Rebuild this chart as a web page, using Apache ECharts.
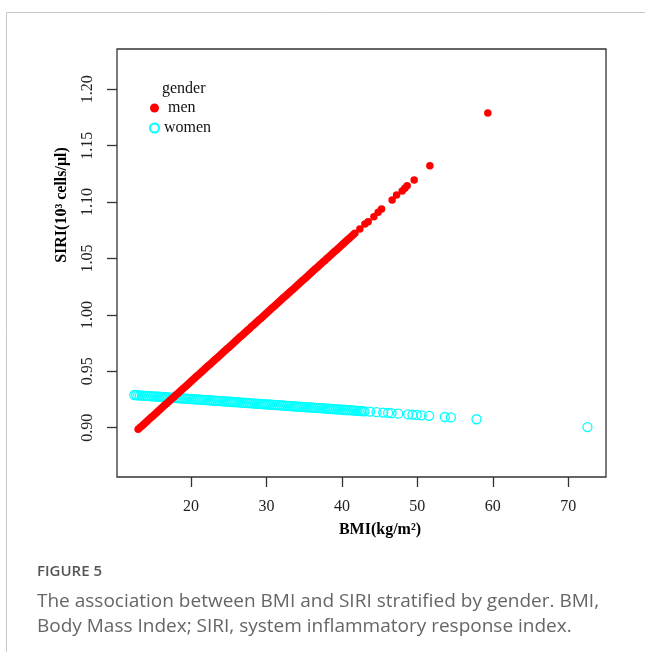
<!DOCTYPE html>
<html>
<head>
<meta charset="utf-8">
<script src="https://cdn.jsdelivr.net/npm/echarts@6/dist/echarts.min.js"></script>
<style>
html,body{margin:0;padding:0;background:#fff;}
#chart{width:645px;height:652px;}
</style>
</head>
<body>
<div id="chart"></div>
<script>
// ---- data ----
const menBMI = [13.00,13.25,13.50,13.75,14.00,14.25,14.50,14.75,15.00,15.25,15.50,15.75,16.00,16.25,16.50,16.75,17.00,17.25,17.50,17.75,18.00,18.25,18.50,18.75,19.00,19.25,19.50,19.75,20.00,20.25,20.50,20.75,21.00,21.25,21.50,21.75,22.00,22.25,22.50,22.75,23.00,23.25,23.50,23.75,24.00,24.25,24.50,24.75,25.00,25.25,25.50,25.75,26.00,26.25,26.50,26.75,27.00,27.25,27.50,27.75,28.00,28.25,28.50,28.75,29.00,29.25,29.50,29.75,30.00,30.25,30.50,30.75,31.00,31.25,31.50,31.75,32.00,32.25,32.50,32.75,33.00,33.25,33.50,33.75,34.00,34.25,34.50,34.75,35.00,35.25,35.50,35.75,36.00,36.25,36.50,36.75,37.00,37.25,37.50,37.75,38.00,38.25,38.50,38.75,39.00,39.25,39.50,39.75,40.00,40.25,40.50,40.75,41.00,41.25,41.50,41.72,42.38,43.05,43.48,44.24,44.81,45.26,46.66,47.25,47.99,48.34,48.65,49.58,51.66,59.34];
const menSIRI = [0.8986,0.9001,0.9016,0.9031,0.9047,0.9062,0.9077,0.9092,0.9107,0.9122,0.9137,0.9152,0.9168,0.9183,0.9198,0.9213,0.9228,0.9243,0.9258,0.9273,0.9289,0.9304,0.9319,0.9334,0.9349,0.9364,0.9379,0.9394,0.9410,0.9425,0.9440,0.9455,0.9470,0.9485,0.9500,0.9515,0.9531,0.9546,0.9561,0.9576,0.9591,0.9606,0.9621,0.9636,0.9652,0.9667,0.9682,0.9697,0.9712,0.9727,0.9742,0.9757,0.9773,0.9788,0.9803,0.9818,0.9833,0.9848,0.9863,0.9878,0.9894,0.9909,0.9924,0.9939,0.9954,0.9969,0.9984,0.9999,1.0015,1.0030,1.0045,1.0060,1.0075,1.0090,1.0105,1.0120,1.0136,1.0151,1.0166,1.0181,1.0196,1.0211,1.0226,1.0241,1.0257,1.0272,1.0287,1.0302,1.0317,1.0332,1.0347,1.0362,1.0378,1.0393,1.0408,1.0423,1.0438,1.0453,1.0468,1.0483,1.0499,1.0514,1.0529,1.0544,1.0559,1.0574,1.0589,1.0604,1.0620,1.0635,1.0650,1.0665,1.0680,1.0695,1.0710,1.0723,1.0762,1.0806,1.0826,1.0871,1.0910,1.0938,1.1018,1.1063,1.1098,1.1122,1.1145,1.1196,1.1323,1.1790];
const womenBMI = [12.50,12.75,13.00,13.25,13.50,13.75,14.00,14.25,14.50,14.75,15.00,15.25,15.50,15.75,16.00,16.25,16.50,16.75,17.00,17.25,17.50,17.75,18.00,18.25,18.50,18.75,19.00,19.25,19.50,19.75,20.00,20.25,20.50,20.75,21.00,21.25,21.50,21.75,22.00,22.25,22.50,22.75,23.00,23.25,23.50,23.75,24.00,24.25,24.50,24.75,25.00,25.25,25.50,25.75,26.00,26.25,26.50,26.75,27.00,27.25,27.50,27.75,28.00,28.25,28.50,28.75,29.00,29.25,29.50,29.75,30.00,30.25,30.50,30.75,31.00,31.25,31.50,31.75,32.00,32.25,32.50,32.75,33.00,33.25,33.50,33.75,34.00,34.25,34.50,34.75,35.00,35.25,35.50,35.75,36.00,36.25,36.50,36.75,37.00,37.25,37.50,37.75,38.00,38.25,38.50,38.75,39.00,39.25,39.50,39.75,40.00,40.25,40.50,40.75,41.00,41.25,41.50,41.75,42.00,42.25,42.50,42.75,43.00,43.71,44.60,45.47,46.13,46.58,47.46,48.78,49.36,49.89,50.56,51.56,53.64,54.44,57.84,72.54];
const womenSIRI = [0.9290,0.9289,0.9287,0.9286,0.9285,0.9284,0.9283,0.9282,0.9280,0.9279,0.9278,0.9277,0.9276,0.9275,0.9273,0.9272,0.9271,0.9270,0.9268,0.9267,0.9266,0.9265,0.9264,0.9263,0.9261,0.9260,0.9259,0.9258,0.9257,0.9256,0.9254,0.9253,0.9252,0.9251,0.9250,0.9249,0.9247,0.9246,0.9245,0.9244,0.9242,0.9241,0.9240,0.9239,0.9238,0.9237,0.9235,0.9234,0.9233,0.9232,0.9231,0.9230,0.9228,0.9227,0.9226,0.9225,0.9224,0.9223,0.9221,0.9220,0.9219,0.9218,0.9216,0.9215,0.9214,0.9213,0.9212,0.9211,0.9209,0.9208,0.9207,0.9206,0.9205,0.9204,0.9202,0.9201,0.9200,0.9199,0.9198,0.9197,0.9195,0.9194,0.9193,0.9192,0.9190,0.9189,0.9188,0.9187,0.9186,0.9185,0.9183,0.9182,0.9181,0.9180,0.9179,0.9178,0.9176,0.9175,0.9174,0.9173,0.9172,0.9171,0.9169,0.9168,0.9167,0.9166,0.9164,0.9163,0.9162,0.9161,0.9160,0.9159,0.9157,0.9156,0.9155,0.9154,0.9153,0.9152,0.9150,0.9149,0.9148,0.9147,0.9145,0.9142,0.9138,0.9134,0.9131,0.9129,0.9124,0.9118,0.9115,0.9113,0.9110,0.9105,0.9095,0.9091,0.9075,0.9006];
const xTicks = [20,30,40,50,60,70];
const yTicks = [0.90,0.95,1.00,1.05,1.10,1.15,1.20];
const yTickLabels = ['0.90','0.95','1.00','1.05','1.10','1.15','1.20'];
const seriesNames = ['men','women'];

const pair = (xs, ys) => xs.map((x, i) => [x, ys[i]]);
const serif = '"Liberation Serif","Times New Roman",serif';

const chart = echarts.init(document.getElementById('chart'), null, {renderer:'canvas'});
chart.setOption({
  animation:false,
  backgroundColor:'#fff',
  grid:{left:117, top:49, width:489, height:428, show:true, borderColor:'#333', borderWidth:1.3, backgroundColor:'transparent'},
  xAxis:{
    type:'value', min:10.2, max:75.0,
    axisLine:{show:false},
    splitLine:{show:false},
    axisTick:{show:true, length:10, lineStyle:{color:'#333', width:1.3}, customValues:xTicks},
    axisLabel:{margin:22, fontFamily:serif, fontSize:16, color:'#222', customValues:xTicks, formatter:v=>String(v)}
  },
  yAxis:{
    type:'value', min:0.8563, max:1.2357,
    axisLine:{show:false},
    splitLine:{show:false},
    axisTick:{show:true, length:10, lineStyle:{color:'#333', width:1.3}, customValues:yTicks},
    axisLabel:{margin:21, rotate:90, fontFamily:serif, fontSize:16, color:'#222', customValues:yTicks,
      formatter:v=>{const i=yTicks.findIndex(t=>Math.abs(t-v)<1e-6); return i>=0?yTickLabels[i]:'';}}
  },
  legend:{
    orient:'vertical', left:144, top:95, itemWidth:9, itemHeight:9, itemGap:4,
    data:[{name:seriesNames[0]},{name:seriesNames[1]}],
    formatter:n=> n==='men' ? ' men' : n,
    textStyle:{fontFamily:serif, fontSize:16, color:'#111', lineHeight:16}
  },
  series:[
    {name:seriesNames[1], type:'scatter', data:pair(womenBMI, womenSIRI), symbol:'circle', symbolSize:9,
      itemStyle:{color:'rgba(0,0,0,0)', borderColor:'#00FFFF', borderWidth:1.3, opacity:1}, emphasis:{disabled:true}, z:2},
    {name:seriesNames[0], type:'scatter', data:pair(menBMI, menSIRI), symbol:'circle', symbolSize:7.5,
      itemStyle:{color:'#FF0000', opacity:1}, emphasis:{disabled:true}, z:3}
  ],
  graphic:[
    {type:'polyline', shape:{points:[[6.5,652],[6.5,12.5],[645,12.5]]}, style:{stroke:'#c8c8c8', lineWidth:1, fill:null}, silent:true},
    {type:'text', x:162, y:89, style:{text:'gender', font:'16px '+serif, fill:'#111', verticalAlign:'middle', align:'left'}},
    {type:'text', x:62, y:205, rotation:Math.PI/2, style:{text:'SIRI(10³ cells/μl)', font:'bold 16px '+serif, fill:'#000', align:'center', verticalAlign:'middle'}},
    {type:'text', x:380, y:530, style:{text:'BMI(kg/m²)', font:'bold 16px '+serif, fill:'#000', align:'center', verticalAlign:'middle'}},
    {type:'text', x:37, y:572, style:{text:'FIGURE 5', font:'600 15px "Open Sans",sans-serif', fill:'#555', verticalAlign:'middle'}},
    {type:'text', x:37, y:602, style:{text:'The association between BMI and SIRI stratified by gender. BMI,', font:'19px "Open Sans",sans-serif', fill:'#666', verticalAlign:'middle'}},
    {type:'text', x:37, y:627, style:{text:'Body Mass Index; SIRI, system inflammatory response index.', font:'19px "Open Sans",sans-serif', fill:'#666', verticalAlign:'middle'}}
  ]
});
</script>
</body>
</html>
